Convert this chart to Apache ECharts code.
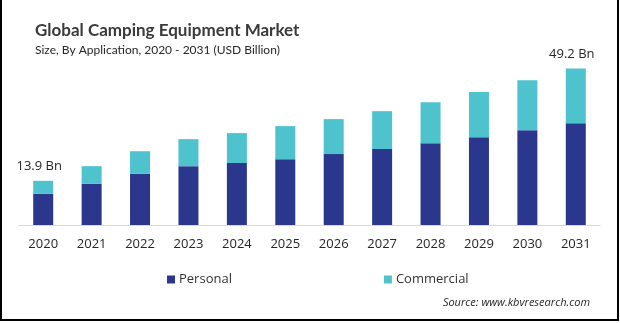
<!DOCTYPE html>
<html>
<head>
<meta charset="utf-8">
<script src="https://cdn.jsdelivr.net/npm/echarts@6/dist/echarts.min.js"></script>
<style>
  html, body { margin: 0; padding: 0; background: #fff; }
  #chart { width: 620px; height: 323px; }
</style>
</head>
<body>
<div id="chart"></div>
<script>
// Market size by application, USD billion
const years = ['2020', '2021', '2022', '2023', '2024', '2025', '2026', '2027', '2028', '2029', '2030', '2031'];
const personal = [9.8, 13.0, 16.1, 18.5, 19.5, 20.7, 22.3, 23.9, 25.7, 27.6, 29.8, 32.0];
const commercial = [4.1, 5.5, 7.1, 8.5, 9.4, 10.4, 11.0, 11.9, 12.9, 14.2, 15.7, 17.2];
// Totals called out above the first and last bars
const calloutYears = ['2020', '2031'];

const FONT = '"Open Sans", "Noto Sans", sans-serif';
const TITLE_FONT = 'Lato, "Open Sans", sans-serif';

const chart = echarts.init(document.getElementById('chart'), null, { renderer: 'canvas' });

chart.setOption({
  animation: false,
  backgroundColor: '#ffffff',
  textStyle: { fontFamily: FONT },
  title: {
    text: 'Global Camping Equipment Market',
    subtext: 'Size, By Application, 2020 - 2031 (USD Billion)',
    left: 30,
    top: 17,
    itemGap: 5,
    textStyle: { fontFamily: TITLE_FONT, fontSize: 17, fontWeight: 'bold', color: '#3a3a3a' },
    subtextStyle: { fontFamily: TITLE_FONT, fontSize: 12, color: '#262626' }
  },
  legend: {
    data: ['Personal', 'Commercial'],
    left: 162,
    top: 268,
    icon: 'rect',
    itemWidth: 8,
    itemHeight: 8,
    itemGap: 152,
    textStyle: { fontFamily: FONT, fontSize: 13, color: '#333333', padding: [0, 0, 0, -1] }
  },
  grid: { left: 19, right: 20, top: 66, bottom: 98, containLabel: false },
  xAxis: {
    type: 'category',
    data: years,
    axisLine: { lineStyle: { color: '#d9d9d9', width: 1 } },
    axisTick: { show: false },
    axisLabel: { fontFamily: FONT, fontSize: 13, color: '#262626', margin: 13 }
  },
  yAxis: {
    type: 'value',
    min: 0,
    max: 50,
    show: false,
    splitLine: { show: false }
  },
  series: [
    {
      name: 'Personal',
      type: 'bar',
      stack: 'total',
      barWidth: 20,
      itemStyle: { color: '#2b378c' },
      data: personal
    },
    {
      name: 'Commercial',
      type: 'bar',
      stack: 'total',
      barWidth: 20,
      itemStyle: { color: '#4ec3ce' },
      data: commercial.map(function (v, i) {
        const total = +(personal[i] + v).toFixed(1);
        const item = { value: v };
        if (calloutYears.indexOf(years[i]) >= 0) {
          item.label = {
            show: true,
            position: 'top',
            distance: 8,
            offset: [-4, 0],
            formatter: total + ' Bn',
            fontFamily: FONT,
            fontSize: 13,
            color: '#262626'
          };
        }
        return item;
      })
    }
  ],
  graphic: [
    {
      type: 'text',
      right: 30,
      top: 297,
      style: {
        text: 'Source: www.kbvresearch.com',
        font: 'italic 11px ' + FONT,
        fill: '#262626'
      }
    },
    { type: 'line', shape: { x1: 1, y1: 0, x2: 1, y2: 321 }, style: { stroke: '#000', lineWidth: 2 } },
    { type: 'line', shape: { x1: 618, y1: 0, x2: 618, y2: 321 }, style: { stroke: '#000', lineWidth: 2 } },
    { type: 'line', shape: { x1: 0, y1: 320, x2: 619, y2: 320 }, style: { stroke: '#000', lineWidth: 2 } }
  ]
});
</script>
</body>
</html>
